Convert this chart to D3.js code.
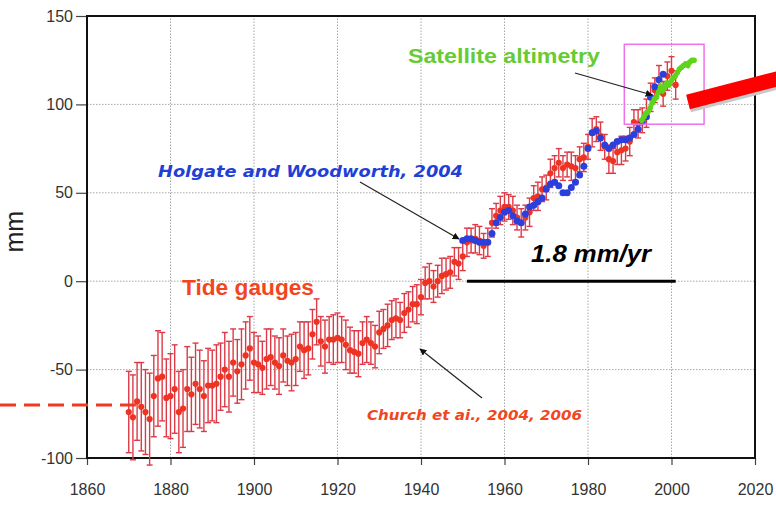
<!DOCTYPE html>
<html>
<head>
<meta charset="utf-8">
<script src="https://cdn.jsdelivr.net/npm/d3@7"></script>
<style>
  body { margin: 0; background: #fff; }
  svg { display: block; }
</style>
</head>
<body>
<svg width="776" height="505"></svg>
<script>
// tide gauges (Church et al.), one value a year from 1870
const tideStart = 1870;
const tideMm = [
  -74, -77, -68, -71, -74, -78, -65, -55, -54, -66,
  -65, -61, -74, -72, -61, -64, -58, -61, -65, -59,
  -59, -58, -54, -50, -54, -46, -51, -47, -42, -38,
  -46, -47, -49, -44, -43, -46, -48, -42, -45, -46,
  -44, -37, -39, -38, -30, -23, -34, -37, -33, -33,
  -32, -33, -36, -39, -40, -41, -35, -33, -35, -37,
  -29, -27, -25, -22, -21, -22, -18, -16, -13, -13,
  -9, -1, 0, -3, 0, 3, 4, 5, 11, 10,
  14, 22, 23, 24, 23, 20, 22, 33, 37, 40,
  42, 42, 40, 36, 33, 36, 39, 47, 48, 52,
  53, 61, 64, 67, 64, 66, 65, 64, 69, 70,
  76, 84, 86, 82, 76, 69, 68, 73, 74, 75,
  79, 90, 89, 91, 95, 104, 108, 114, 106, 116, 119, 111
];
const tideErr = [
  23, 24, 22, 25, 24, 26, 23, 27, 25, 22,
  24, 25, 23, 22, 24, 21, 23, 22, 20, 21,
  20, 22, 19, 21, 20, 19, 18, 20, 19, 18,
  17, 16, 15, 17, 16, 15, 16, 15, 14, 16,
  15, 14, 16, 15, 14, 13, 14, 15, 13, 14,
  14, 13, 14, 13, 12, 13, 12, 13, 12, 12,
  12, 11, 12, 11, 11, 10, 11, 10, 10, 11,
  10, 9, 10, 9, 9, 10, 9, 9, 8, 9,
  8, 8, 7, 8, 8, 7, 8, 8, 7, 8,
  8, 7, 8, 7, 8, 7, 8, 7, 8, 7,
  7, 8, 7, 8, 7, 7, 8, 7, 7, 8,
  7, 8, 7, 8, 7, 8, 7, 7, 8, 7,
  8, 7, 8, 7, 8, 8, 7, 8, 7, 8, 8, 8
];

// Holgate and Woodworth 2004
const holgateStart = 1950;
const holgateMm = [
  23, 24, 24, 23, 22, 22, 22, 27, 33, 36,
  39, 40, 37, 34, 33, 38, 42, 43, 45, 47,
  52, 55, 56, 54, 50, 50, 53, 56, 60, 65,
  75, 84, 85, 81, 77, 75, 77, 79, 80, 80,
  81, 83, 86, 90, 93, 104, 110, 114, 117
];

// satellite altimetry
const satYears = [
  1992.9, 1993.4, 1993.9, 1994.4, 1994.9, 1995.4, 1995.9, 1996.4, 1996.9,
  1997.4, 1997.9, 1998.4, 1998.9, 1999.4, 1999.9, 2000.4, 2000.9, 2001.4,
  2001.9, 2002.4, 2002.9, 2003.4, 2003.9, 2004.4, 2004.9, 2005.4
];
const satMm = [
  91, 93, 95, 96, 98, 101, 103, 104, 107,
  110, 108, 110, 112, 111, 113, 115, 116, 118,
  120, 121, 122, 123, 122, 124, 125, 125
];

const xTicks = [1860, 1880, 1900, 1920, 1940, 1960, 1980, 2000, 2020];
const yTicks = [-100, -50, 0, 50, 100, 150];

const svg = d3.select('svg');
const width = +svg.attr('width');
const height = +svg.attr('height');
const margin = {top: 16, right: 21, bottom: 47, left: 87};

const x = d3.scaleLinear().domain([1860, 2020]).range([margin.left, width - margin.right]);
const y = d3.scaleLinear().domain([-100, 150]).range([height - margin.bottom, margin.top]);

const sans = '"Liberation Sans", Arial, Helvetica, sans-serif';
const verdana = '"DejaVu Sans", Verdana, sans-serif';

// grid
svg.append('g')
  .selectAll('line')
  .data(xTicks.slice(1, -1))
  .join('line')
  .attr('x1', d => x(d)).attr('x2', d => x(d))
  .attr('y1', y(-100)).attr('y2', y(150))
  .attr('stroke', '#a8a8a8')
  .attr('stroke-dasharray', '1.5,1.5');

svg.append('g')
  .selectAll('line')
  .data(yTicks.slice(1, -1))
  .join('line')
  .attr('x1', x(1860)).attr('x2', x(2020))
  .attr('y1', d => y(d)).attr('y2', d => y(d))
  .attr('stroke', '#a8a8a8')
  .attr('stroke-dasharray', '1.5,1.5');

// axes
const xAxis = svg.append('g')
  .attr('transform', `translate(0,${y(-100)})`)
  .call(d3.axisBottom(x).tickValues(xTicks).tickFormat(d3.format('d')).tickSize(7).tickPadding(19));

const yAxis = svg.append('g')
  .attr('transform', `translate(${x(1860)},0)`)
  .call(d3.axisLeft(y).tickValues(yTicks).tickSize(11).tickPadding(3));

[xAxis, yAxis].forEach(g => {
  g.select('.domain').remove();
  g.selectAll('text').attr('font-family', sans).attr('font-size', 16).attr('fill', '#333');
  g.selectAll('.tick line').attr('stroke', '#444').attr('stroke-width', 1.2);
});
yAxis.selectAll('text').text(d => d < 0 ? '-' + Math.abs(d) : d);

svg.append('rect')
  .attr('x', x(1860)).attr('y', y(150))
  .attr('width', x(2020) - x(1860)).attr('height', y(-100) - y(150))
  .attr('fill', 'none').attr('stroke', '#111').attr('stroke-width', 2);

svg.append('text')
  .attr('transform', `translate(23,${y(28)}) rotate(-90)`)
  .attr('text-anchor', 'middle')
  .attr('font-family', sans).attr('font-size', 25).attr('fill', '#222')
  .text('mm');

// tide gauges
const tide = tideMm.map((v, i) => ({year: tideStart + i, mm: v, err: tideErr[i]}));
const bars = svg.append('g').attr('stroke', '#dc3a46').attr('stroke-width', 1.4);
bars.selectAll('line.v').data(tide).join('line')
  .attr('class', 'v')
  .attr('x1', d => x(d.year)).attr('x2', d => x(d.year))
  .attr('y1', d => y(d.mm - d.err)).attr('y2', d => y(d.mm + d.err));
bars.selectAll('line.t').data(tide).join('line')
  .attr('class', 't')
  .attr('x1', d => x(d.year) - 3).attr('x2', d => x(d.year) + 3)
  .attr('y1', d => y(d.mm + d.err)).attr('y2', d => y(d.mm + d.err));
bars.selectAll('line.b').data(tide).join('line')
  .attr('class', 'b')
  .attr('x1', d => x(d.year) - 3).attr('x2', d => x(d.year) + 3)
  .attr('y1', d => y(d.mm - d.err)).attr('y2', d => y(d.mm - d.err));
svg.append('g').selectAll('circle').data(tide).join('circle')
  .attr('cx', d => x(d.year)).attr('cy', d => y(d.mm))
  .attr('r', 3.1).attr('fill', '#ee3322');

// Holgate
svg.append('g').selectAll('circle').data(holgateMm).join('circle')
  .attr('cx', (d, i) => x(holgateStart + i)).attr('cy', d => y(d))
  .attr('r', 3.5).attr('fill', '#2b3fdc');

// satellite
const sat = satYears.map((yr, i) => ({year: yr, mm: satMm[i]}));
svg.append('path')
  .datum(sat)
  .attr('fill', 'none').attr('stroke', '#66dd22').attr('stroke-width', 4.5)
  .attr('d', d3.line().x(d => x(d.year)).y(d => y(d.mm)));
svg.append('g').selectAll('circle').data(sat).join('circle')
  .attr('cx', d => x(d.year)).attr('cy', d => y(d.mm))
  .attr('r', 2.8).attr('fill', '#5fd41c');

// annotations
svg.append('rect')
  .attr('x', x(1988.7)).attr('y', y(134))
  .attr('width', x(2007.8) - x(1988.7)).attr('height', y(88.8) - y(134))
  .attr('fill', 'none').attr('stroke', '#ee70ee').attr('stroke-width', 1.5);

svg.append('line')
  .attr('x1', x(1951)).attr('x2', x(2001)).attr('y1', y(0)).attr('y2', y(0))
  .attr('stroke', '#000').attr('stroke-width', 3);

svg.append('line')
  .attr('x1', 0).attr('x2', x(1871.7)).attr('y1', y(-70)).attr('y2', y(-70))
  .attr('stroke', '#ee3a1e').attr('stroke-width', 3).attr('stroke-dasharray', '16,8');

const defs = svg.append('defs');
defs.append('marker')
  .attr('id', 'arrow').attr('viewBox', '0 0 10 10')
  .attr('refX', 9).attr('refY', 5)
  .attr('markerWidth', 7).attr('markerHeight', 7)
  .attr('markerUnits', 'userSpaceOnUse')
  .attr('orient', 'auto')
  .append('path').attr('d', 'M0,0 L10,5 L0,10 Z').attr('fill', '#111');

const arrows = [
  [360, 182, 459, 239],
  [482, 398, 420, 349],
  [575, 73, 652, 95]
];
svg.append('g').selectAll('line').data(arrows).join('line')
  .attr('x1', d => d[0]).attr('y1', d => d[1])
  .attr('x2', d => d[2]).attr('y2', d => d[3])
  .attr('stroke', '#222').attr('stroke-width', 1.2)
  .attr('marker-end', 'url(#arrow)');

// red slanted bar on the right
svg.append('line')
  .attr('x1', 689).attr('y1', 105).attr('x2', 800).attr('y2', 76)
  .attr('stroke', '#c8c8c8').attr('stroke-width', 15);
svg.append('line')
  .attr('x1', 688).attr('y1', 102).attr('x2', 800).attr('y2', 73)
  .attr('stroke', '#ff0000').attr('stroke-width', 15);

// labels
const labels = [
  {t: 'Satellite altimetry', x: 408, y: 63, size: 21, fam: sans, style: 'normal', fill: '#66cc33', len: 192},
  {t: 'Holgate and Woodworth, 2004', x: 158, y: 177, size: 15.5, fam: verdana, style: 'italic', fill: '#1f3fd6', len: 305},
  {t: 'Tide gauges', x: 182, y: 295, size: 22, fam: sans, style: 'normal', fill: '#f2461f', len: 132},
  {t: '1.8 mm/yr', x: 531, y: 262, size: 24, fam: sans, style: 'italic', fill: '#000', len: 120},
  {t: 'Church et ai., 2004, 2006', x: 367, y: 420, size: 13.5, fam: verdana, style: 'italic', fill: '#f2461f', len: 215}
];
svg.append('g').selectAll('text').data(labels).join('text')
  .attr('x', d => d.x).attr('y', d => d.y)
  .attr('font-family', d => d.fam).attr('font-size', d => d.size)
  .attr('font-weight', 'bold').attr('font-style', d => d.style)
  .attr('fill', d => d.fill)
  .attr('textLength', d => d.len).attr('lengthAdjust', 'spacingAndGlyphs')
  .text(d => d.t);
</script>
</body>
</html>
